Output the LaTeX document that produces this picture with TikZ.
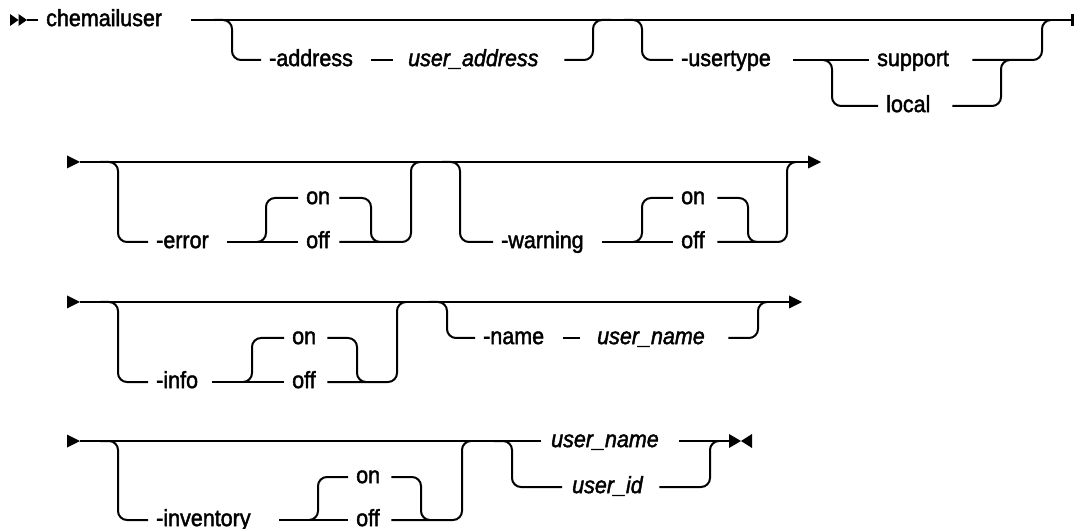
\documentclass[tikz,border=0pt]{standalone}
\usepackage{fontspec}
\setmainfont{Liberation Sans}[FakeStretch=0.915, FakeBold=1.8]
\begin{document}
\begin{tikzpicture}[x=1pt,y=-1pt,
  rail/.style={line width=2pt, rounded corners=9pt},
  txt/.style={font=\fontsize{23.5}{27}\selectfont, inner xsep=8pt, inner ysep=0pt,
              text height=14.2pt, text depth=2pt, anchor=west, align=left, text width=#1},
  var/.style={txt=#1, font=\fontsize{23.5}{27}\selectfont\itshape},
  headfill/.style={fill=black, draw=none}
]
\useasboundingbox (0,0) rectangle (1074,529);

% ---------------- Row 1 ----------------
\coordinate (r1s) at (27,20);
\coordinate (r1e) at (1072,20);
\fill[headfill] (10,14) -- (18.5,20) -- (10,26) -- cycle;
\fill[headfill] (18.5,14) -- (27,20) -- (18.5,26) -- cycle;
\node[txt=137pt] (cmd) at (38,20) {chemailuser};
\draw[rail] (r1s) -- (cmd.west);
\draw[rail] (cmd.east) -- (r1e);
\fill[headfill] (1071,14) rectangle (1074,26);

\node[txt=94pt] (addr) at (261,60) {-address};
\node[var=141pt, inner xsep=15pt] (uaddr) at (393,60) {user\_address};
\draw[rail] (214,20) -- (232,20) -- (232,60) -- (addr.west);
\draw[rail] (addr.east) -- (uaddr.west);
\draw[rail] (uaddr.east) -- (593,60) -- (593,20) -- (611,20);

\node[txt=104pt] (utype) at (673,60) {-usertype};
\node[txt=87pt] (supp) at (869,60) {support};
\node[txt=58pt] (loc) at (878,106) {local};
\draw[rail] (624,20) -- (642,20) -- (642,60) -- (utype.west);
\draw[rail] (utype.east) -- (supp.west);
\draw[rail] (823,60) -- (832,60) -- (832,106) -- (loc.west);
\draw[rail] (loc.east) -- (1001,106) -- (1001,60) -- (1010,60);
\draw[rail] (supp.east) -- (1042,60) -- (1042,20) -- (1051,20);

% ---------------- Row 2 ----------------
\coordinate (r2s) at (80,162);
\coordinate (r2e) at (810,162);
\fill[headfill] (67,155.5) -- (80,162) -- (67,168.5) -- cycle;
\draw[rail] (r2s) -- (r2e);
\fill[headfill] (808,155.5) -- (821,162) -- (808,168.5) -- cycle;

\node[txt=63pt] (err) at (148,242) {-error};
\node[txt=25pt] (on1) at (298,198) {on};
\node[txt=25pt] (off1) at (298,242) {off};
\draw[rail] (100,162) -- (118,162) -- (118,242) -- (err.west);
\draw[rail] (err.east) -- (off1.west);
\draw[rail] (257,242) -- (266,242) -- (266,198) -- (on1.west);
\draw[rail] (on1.east) -- (371,198) -- (371,242) -- (380,242);
\draw[rail] (off1.east) -- (411,242) -- (411,162) -- (420,162);

\node[txt=93pt] (warn) at (493,242) {-warning};
\node[txt=28pt] (on2) at (673,198) {on};
\node[txt=28pt] (off2) at (673,242) {off};
\draw[rail] (442,162) -- (460,162) -- (460,242) -- (warn.west);
\draw[rail] (warn.east) -- (off2.west);
\draw[rail] (633,242) -- (642,242) -- (642,198) -- (on2.west);
\draw[rail] (on2.east) -- (748,198) -- (748,242) -- (757,242);
\draw[rail] (off2.east) -- (787,242) -- (787,162) -- (796,162);

% ---------------- Row 3 ----------------
\coordinate (r3s) at (80,302);
\coordinate (r3e) at (791,302);
\fill[headfill] (67,295.5) -- (80,302) -- (67,308.5) -- cycle;
\draw[rail] (r3s) -- (r3e);
\fill[headfill] (789,295.5) -- (802,302) -- (789,308.5) -- cycle;

\node[txt=48pt] (info) at (148,382) {-info};
\node[txt=27pt] (on3) at (284,338) {on};
\node[txt=27pt] (off3) at (284,382) {off};
\draw[rail] (100,302) -- (118,302) -- (118,382) -- (info.west);
\draw[rail] (info.east) -- (off3.west);
\draw[rail] (243,382) -- (252,382) -- (252,338) -- (on3.west);
\draw[rail] (on3.east) -- (357,338) -- (357,382) -- (366,382);
\draw[rail] (off3.east) -- (397,382) -- (397,302) -- (406,302);

\node[txt=72pt] (name) at (475,338) {-name};
\node[var=114pt, inner xsep=17pt] (uname) at (580,338) {user\_name};
\draw[rail] (429,302) -- (447,302) -- (447,338) -- (name.west);
\draw[rail] (name.east) -- (uname.west);
\draw[rail] (uname.east) -- (758,338) -- (758,302) -- (767,302);

% ---------------- Row 4 ----------------
\coordinate (r4s) at (80,441);
\coordinate (r4e) at (729,441);
\fill[headfill] (67,434.5) -- (80,441) -- (67,447.5) -- cycle;
\node[var=118pt, inner xsep=10pt] (un2) at (541,441) {user\_name};
\draw[rail] (r4s) -- (un2.west);
\draw[rail] (un2.east) -- (r4e);
\fill[headfill] (729,434) -- (741,441) -- (729,448) -- cycle;
\fill[headfill] (752,434) -- (741,441) -- (752,448) -- cycle;

\node[txt=115pt] (inv) at (148,520) {-inventory};
\node[txt=27pt] (on4) at (348,477) {on};
\node[txt=27pt] (off4) at (348,520) {off};
\draw[rail] (100,441) -- (118,441) -- (118,520) -- (inv.west);
\draw[rail] (inv.east) -- (off4.west);
\draw[rail] (309,520) -- (318,520) -- (318,477) -- (on4.west);
\draw[rail] (on4.east) -- (421,477) -- (421,520) -- (430,520);
\draw[rail] (off4.east) -- (462,520) -- (462,441) -- (471,441);

\node[var=77pt, inner xsep=10pt] (uid) at (562,487) {user\_id};
\draw[rail] (494,441) -- (512,441) -- (512,487) -- (uid.west);
\draw[rail] (uid.east) -- (710,487) -- (710,441) -- (719,441);
\end{tikzpicture}
\end{document}
